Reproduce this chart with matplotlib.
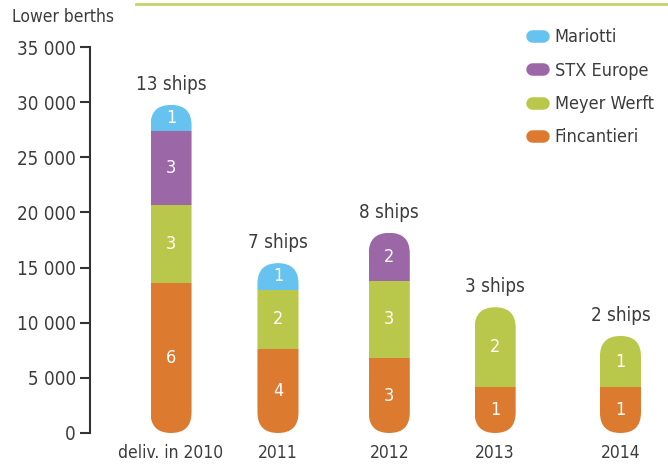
import matplotlib
matplotlib.use("Agg")
import matplotlib.pyplot as plt
from matplotlib.patches import FancyBboxPatch
from matplotlib.lines import Line2D

plt.rcParams["font.family"] = ["DejaVu Sans"]
plt.rcParams["font.stretch"] = "condensed"

# data
years = ["deliv. in 2010", "2011", "2012", "2013", "2014"]
ships_total = [13, 7, 8, 3, 2]
builders = ["Fincantieri", "Meyer Werft", "STX Europe", "Mariotti"]
berths = {
    "Fincantieri": [13600, 7600, 6800, 4150, 4150],
    "Meyer Werft": [7050, 5400, 7000, 7250, 4650],
    "STX Europe": [6700, 0, 4350, 0, 0],
    "Mariotti": [2400, 2400, 0, 0, 0],
}
ship_counts = {
    "Fincantieri": [6, 4, 3, 1, 1],
    "Meyer Werft": [3, 2, 3, 2, 1],
    "STX Europe": [3, 0, 2, 0, 0],
    "Mariotti": [1, 1, 0, 0, 0],
}
colors = {
    "Fincantieri": "#dc7b30",
    "Meyer Werft": "#b9c84a",
    "STX Europe": "#9c67a7",
    "Mariotti": "#66c2ee",
}

# layout
xpos = [0, 0.99, 2.02, 3.0, 4.16]
bar_w = 0.38
txt = "#3c3c3c"

W, H = 668, 466
fig = plt.figure(figsize=(W / 100, H / 100), dpi=100)
ax = fig.add_axes([90 / W, (H - 433) / H, (W - 90) / W, 386 / H])
ax.set_xlim(-0.75, 4.6)
ax.set_ylim(0, 35000)

# aspect to keep capsule ends round
x_per_px = (4.6 + 0.75) / (W - 90)
y_per_px = 35000 / 386
aspect = y_per_px / x_per_px

for i, x in enumerate(xpos):
    total = sum(berths[b][i] for b in builders)
    capsule = FancyBboxPatch((x - bar_w / 2, 0), bar_w, total,
                             boxstyle=f"round,pad=0,rounding_size={bar_w / 2}",
                             mutation_aspect=aspect, facecolor="none",
                             edgecolor="none")
    ax.add_patch(capsule)
    bottom = 0
    for b in builders:
        v = berths[b][i]
        if v == 0:
            continue
        bars = ax.bar(x, v, bar_w, bottom=bottom, color=colors[b], linewidth=0)
        for r in bars:
            r.set_clip_path(capsule)
        ax.text(x, bottom + v / 2, str(ship_counts[b][i]), color="white",
                ha="center", va="center", fontsize=13)
        bottom += v
    ax.annotate(f"{ships_total[i]} ships", (x, total), xytext=(0, 8),
                textcoords="offset points", ha="center", va="bottom",
                fontsize=13.5, color=txt)

ax.set_yticks(range(0, 35001, 5000))
ax.set_yticklabels([f"{v:,}".replace(",", " ") for v in range(0, 35001, 5000)])
ax.tick_params(axis="y", direction="out", length=7, width=1.5, colors="#333333",
               labelsize=13.5, labelcolor=txt, pad=3)
ax.set_xticks(xpos)
ax.set_xticklabels(years)
ax.tick_params(axis="x", length=0, labelsize=12.5, labelcolor=txt, pad=8)
for s in ["top", "right", "bottom"]:
    ax.spines[s].set_visible(False)
ax.spines["left"].set_linewidth(1.5)
ax.spines["left"].set_color("#333333")

fig.text(12 / W, 1 - 17 / H, "Lower berths", fontsize=12.5, color=txt,
         ha="left", va="center")

# top rule of cropped title
fig.add_artist(Line2D([136 / W, 1], [1 - 4 / H, 1 - 4 / H], color="#c5d36a",
                      linewidth=2))

handles = [Line2D([0], [0], color=colors[b], linewidth=9, solid_capstyle="round")
           for b in builders[::-1]]
leg = fig.legend(handles, builders[::-1], loc="upper left",
                 bbox_to_anchor=(516 / W, 1 - 12 / H), frameon=False,
                 fontsize=13, handlelength=0.6, handletextpad=0.65,
                 labelspacing=0.85)
for t in leg.get_texts():
    t.set_color(txt)

fig.savefig("out.png", dpi=100)
